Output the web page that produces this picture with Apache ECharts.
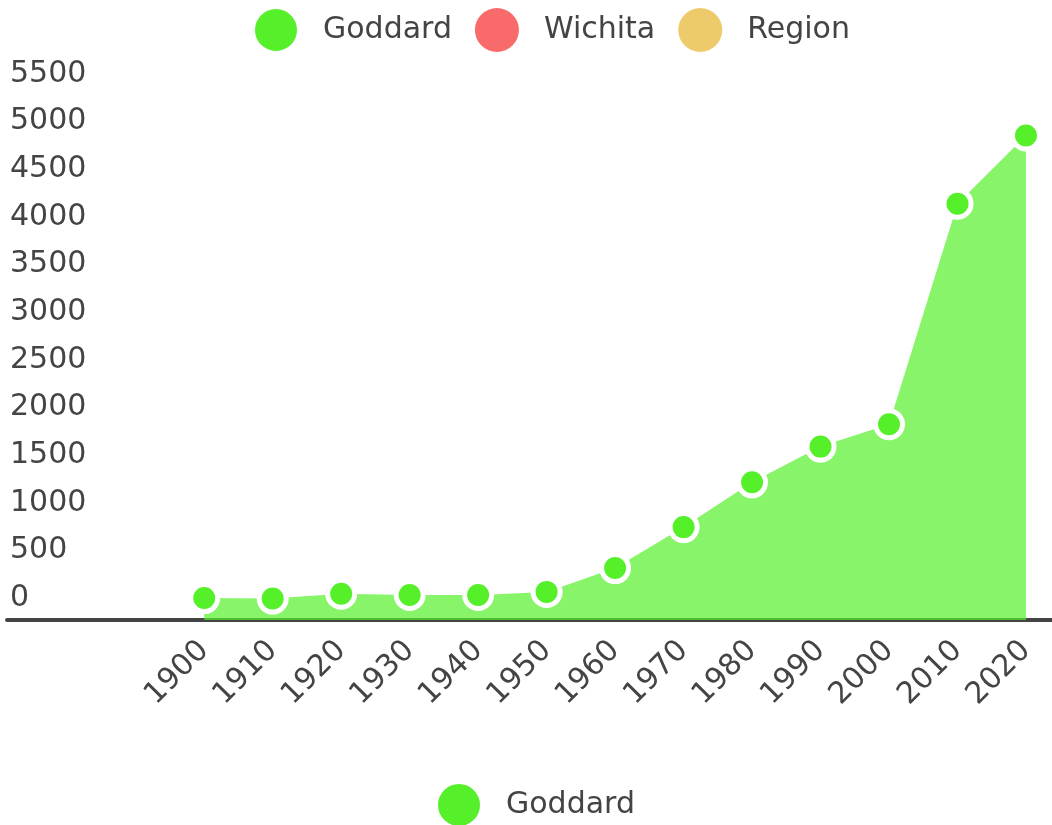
<!DOCTYPE html>
<html>
<head>
<meta charset="utf-8">
<script src="https://cdn.jsdelivr.net/npm/echarts@6/dist/echarts.min.js"></script>
<style>
  html, body { margin: 0; padding: 0; background: #fff; }
  #chart { width: 1052px; height: 825px; }
</style>
</head>
<body>
<div id="chart"></div>
<script>
// census years and population
var years = [1900, 1910, 1920, 1930, 1940, 1950, 1960, 1970, 1980, 1990, 2000, 2010, 2020];
var goddard = [230, 225, 275, 262, 262, 295, 545, 975, 1445, 1820, 2055, 4370, 5085];
var wichita = [];
var region = [];
var seriesNames = ['Goddard', 'Wichita', 'Region'];
var seriesColors = ['#55f02a', '#f96a6a', '#eecb6a'];

var textColor = '#444';
var font = 'DejaVu Sans';

var pairs = function (xs, ys) {
  return ys.map(function (v, i) { return [xs[i], v]; });
};

var chart = echarts.init(document.getElementById('chart'), null, { renderer: 'canvas' });

var legendText = { color: textColor, fontFamily: font, fontSize: 30, padding: [0, 0, 0, 20] };

chart.setOption({
  animation: false,
  color: seriesColors,
  legend: [
    {
      data: seriesNames,
      top: 2,
      left: 248,
      icon: 'circle',
      itemWidth: 44,
      itemHeight: 44,
      itemGap: 23,
      textStyle: legendText
    },
    {
      data: ['Goddard'],
      top: 777,
      left: 431,
      icon: 'circle',
      itemWidth: 44,
      itemHeight: 44,
      textStyle: legendText
    }
  ],
  grid: { left: 7, right: 0, top: 96, bottom: 205 },
  xAxis: {
    type: 'value',
    min: 1871.2,
    max: 2023.8,
    splitLine: { show: false },
    axisTick: { show: false },
    axisLine: { show: true, lineStyle: { color: textColor, width: 4 } },
    axisLabel: {
      customValues: years,
      rotate: 45,
      margin: 26,
      color: textColor,
      fontFamily: font,
      fontSize: 30,
      formatter: function (v) { return String(v); }
    }
  },
  yAxis: {
    type: 'value',
    min: 0,
    max: 5500,
    interval: 500,
    splitLine: { show: false },
    axisTick: { show: false },
    axisLine: { show: false },
    axisLabel: {
      inside: true,
      margin: 3,
      align: 'left',
      verticalAlign: 'bottom',
      padding: [0, 0, 7, 0],
      color: textColor,
      fontFamily: font,
      fontSize: 30,
      formatter: function (v) { return String(v); }
    }
  },
  series: [
    {
      name: 'Goddard',
      type: 'line',
      data: pairs(years, goddard),
      symbol: 'circle',
      symbolSize: 27,
      itemStyle: { color: seriesColors[0], borderColor: '#fff', borderWidth: 5 },
      lineStyle: { width: 0 },
      areaStyle: { color: seriesColors[0], opacity: 0.7 }
    },
    {
      name: 'Wichita',
      type: 'line',
      data: pairs(years, wichita),
      itemStyle: { color: seriesColors[1] },
      lineStyle: { color: seriesColors[1] }
    },
    {
      name: 'Region',
      type: 'line',
      data: pairs(years, region),
      itemStyle: { color: seriesColors[2] },
      lineStyle: { color: seriesColors[2] }
    }
  ]
});
</script>
</body>
</html>
